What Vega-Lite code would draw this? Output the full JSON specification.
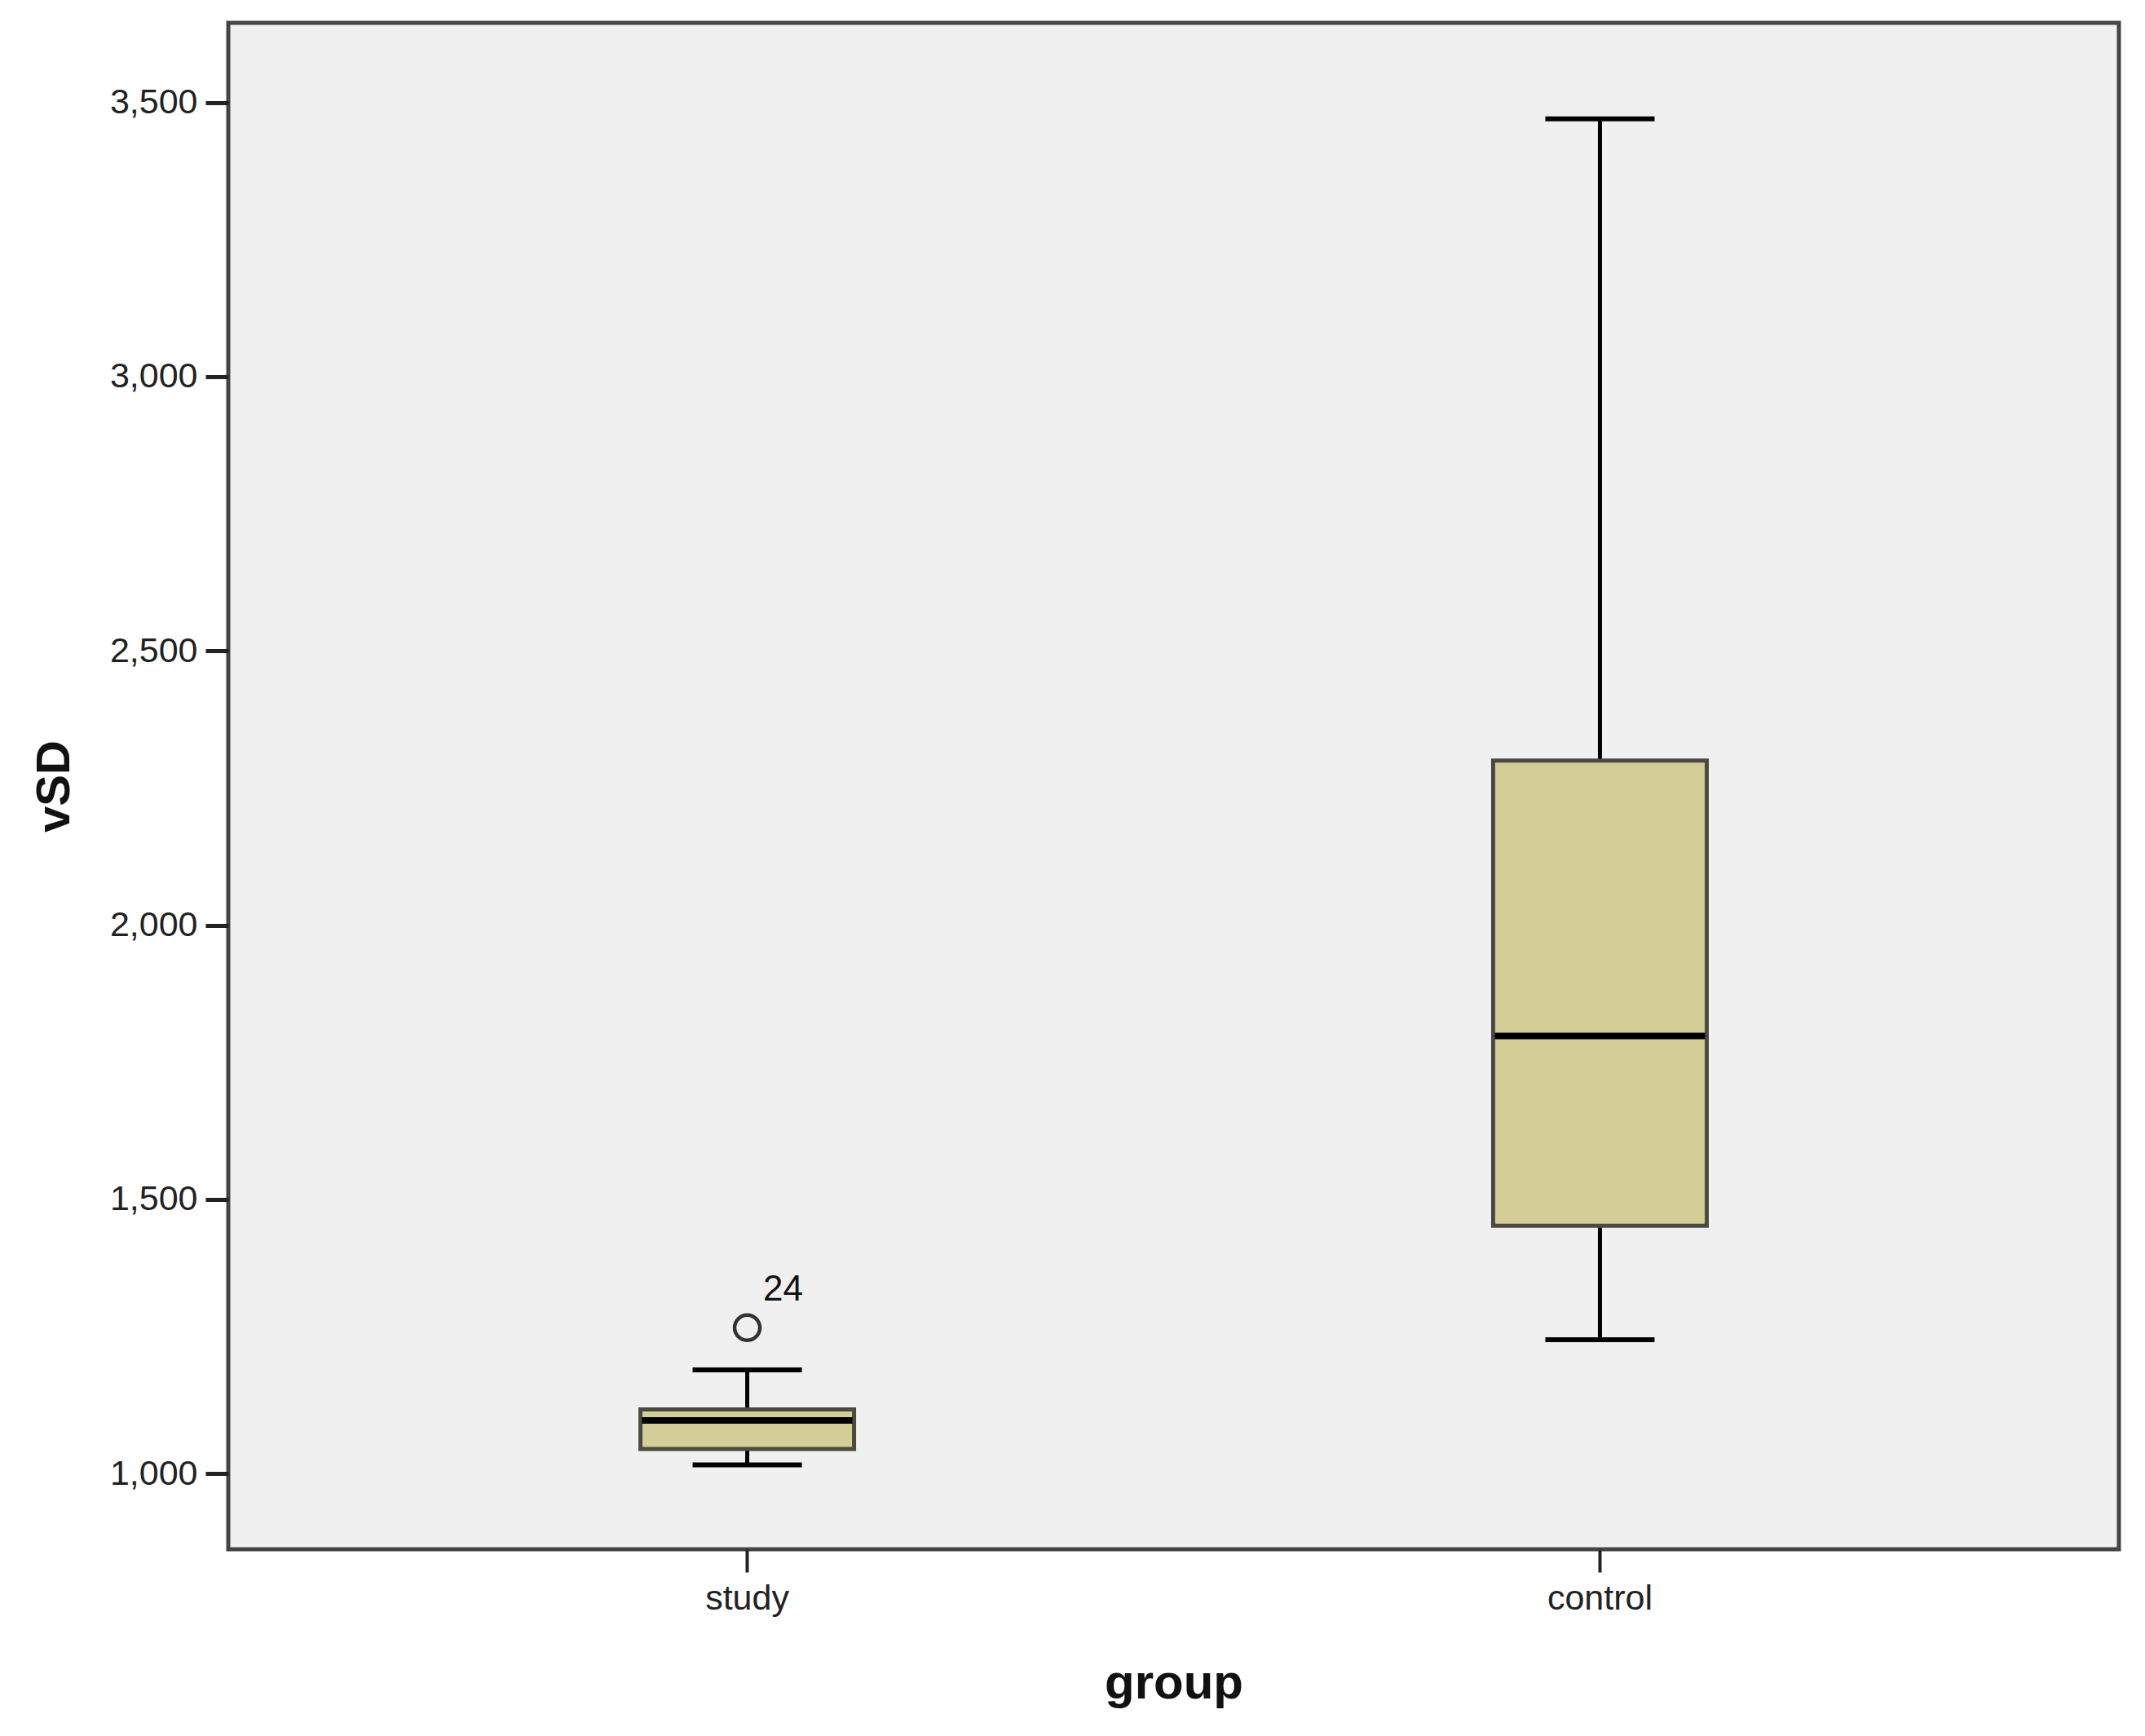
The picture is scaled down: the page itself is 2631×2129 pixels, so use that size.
{
  "$schema": "https://vega.github.io/schema/vega-lite/v6.json",
  "width": 2319,
  "height": 1872,
  "autosize": "none",
  "padding": {"left": 280, "top": 28, "right": 32, "bottom": 229},
  "background": "white",
  "config": {
    "view": {"fill": "#F0F0F0", "stroke": "#444444", "strokeWidth": 5},
    "font": "Liberation Sans",
    "axis": {"labelFlush": false, "labelOverlap": false}
  },
  "datasets": {
    "stats": [
      {"group": "study", "lower": 1016, "q1": 1045, "median": 1097, "q3": 1117, "upper": 1189},
      {"group": "control", "lower": 1244, "q1": 1452, "median": 1798, "q3": 2300, "upper": 3470}
    ],
    "outliers": [
      {"group": "study", "value": 1266, "label": "24"}
    ]
  },
  "encoding": {
    "x": {
      "field": "group",
      "type": "nominal",
      "sort": ["study", "control"],
      "scale": {"type": "band", "paddingInner": 0, "paddingOuter": 0.1086},
      "axis": {
        "title": "group",
        "domain": false,
        "grid": false,
        "tickSize": 28,
        "tickWidth": 4,
        "tickColor": "#222222",
        "labelAngle": 0,
        "labelFont": "Liberation Sans Narrow, Liberation Sans",
        "labelFontSize": 43,
        "labelColor": "#222222",
        "labelBaseline": "alphabetic",
        "labelPadding": 45,
        "titleFont": "Liberation Sans",
        "titleFontWeight": "bold",
        "titleFontSize": 60,
        "titleColor": "#111111",
        "titleY": 182,
        "titleBaseline": "alphabetic"
      }
    }
  },
  "layer": [
    {
      "data": {"name": "stats"},
      "mark": {"type": "rule", "color": "black", "strokeWidth": 5},
      "encoding": {
        "y": {
          "field": "lower",
          "type": "quantitative",
          "scale": {"domain": [862, 3645], "nice": false, "zero": false},
          "axis": {
            "title": "vSD",
            "values": [1000, 1500, 2000, 2500, 3000, 3500],
            "format": ",d",
            "domain": false,
            "grid": false,
            "tickSize": 28,
            "tickWidth": 5,
            "tickColor": "#222222",
            "labelFont": "Liberation Sans Narrow, Liberation Sans",
            "labelFontSize": 43,
            "labelColor": "#222222",
            "labelPadding": 10,
            "titleFont": "Liberation Sans",
            "titleFontWeight": "bold",
            "titleFontSize": 58,
            "titleColor": "#111111",
            "titleAngle": -90,
            "titleX": -213,
            "titleY": 936,
            "titleAlign": "center",
            "titleBaseline": "middle"
          }
        },
        "y2": {"field": "q1"}
      }
    },
    {
      "data": {"name": "stats"},
      "mark": {"type": "rule", "color": "black", "strokeWidth": 5},
      "encoding": {
        "y": {"field": "q3", "type": "quantitative", "title": "vSD"},
        "y2": {"field": "upper"}
      }
    },
    {
      "data": {"name": "stats"},
      "mark": {"type": "tick", "color": "black", "opacity": 1, "size": 134, "thickness": 6},
      "encoding": {
        "y": {"field": "lower", "type": "quantitative", "title": "vSD"}
      }
    },
    {
      "data": {"name": "stats"},
      "mark": {"type": "tick", "color": "black", "opacity": 1, "size": 134, "thickness": 6},
      "encoding": {
        "y": {"field": "upper", "type": "quantitative", "title": "vSD"}
      }
    },
    {
      "data": {"name": "stats"},
      "mark": {"type": "bar", "fill": "#D3CE98", "stroke": "#4a4a40", "strokeWidth": 5, "opacity": 1, "size": 262},
      "encoding": {
        "y": {"field": "q1", "type": "quantitative", "title": "vSD"},
        "y2": {"field": "q3"}
      }
    },
    {
      "data": {"name": "stats"},
      "mark": {"type": "tick", "color": "black", "opacity": 1, "size": 258, "thickness": 8},
      "encoding": {
        "y": {"field": "median", "type": "quantitative", "title": "vSD"}
      }
    },
    {
      "data": {"name": "outliers"},
      "mark": {"type": "point", "shape": "circle", "filled": false, "stroke": "#333333", "strokeWidth": 4.5, "size": 961, "opacity": 1},
      "encoding": {
        "y": {"field": "value", "type": "quantitative", "title": "vSD"}
      }
    },
    {
      "data": {"name": "outliers"},
      "mark": {"type": "text", "dx": 44, "dy": -46, "align": "center", "baseline": "middle", "font": "Liberation Sans Narrow, Liberation Sans", "fontSize": 44, "color": "#111111"},
      "encoding": {
        "y": {"field": "value", "type": "quantitative", "title": "vSD"},
        "text": {"field": "label"}
      }
    }
  ]
}
